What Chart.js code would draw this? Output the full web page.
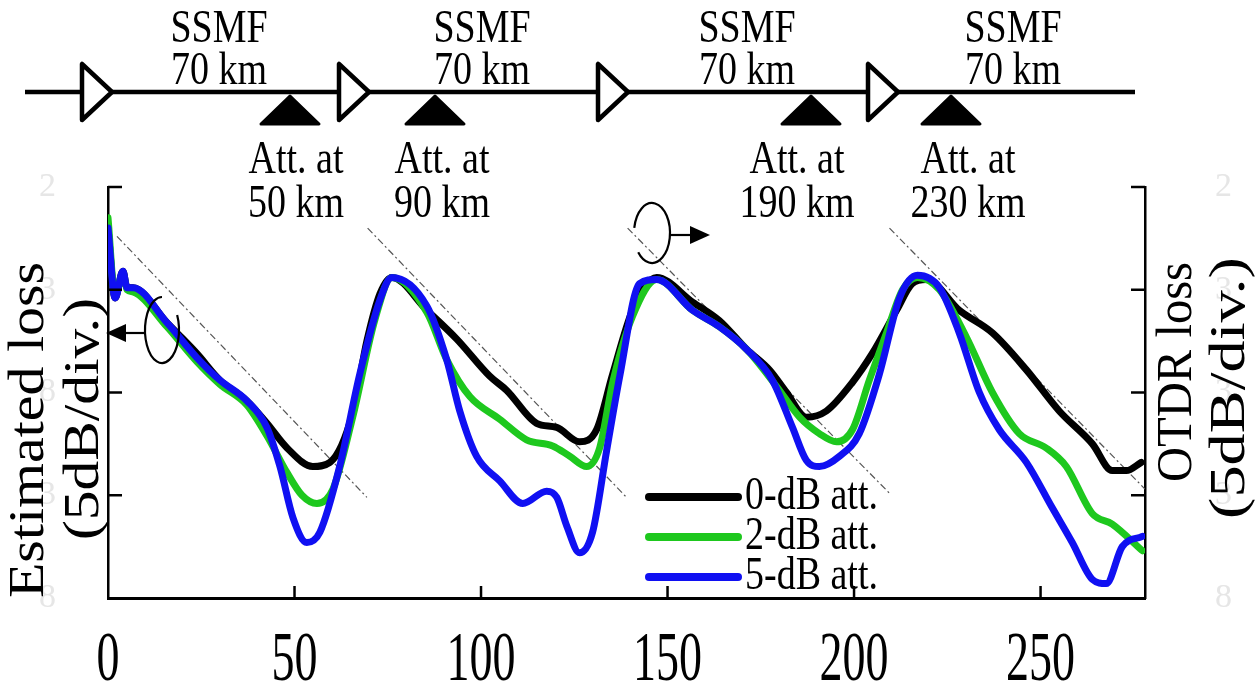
<!DOCTYPE html>
<html><head><meta charset="utf-8">
<script src="https://cdn.jsdelivr.net/npm/chart.js@4.4.0/dist/chart.umd.min.js"></script>
<style>html,body{margin:0;padding:0;background:#fff;}#wrap{width:1255px;height:695px;position:relative;}</style>
</head><body><div id="wrap"><canvas id="c" width="1255" height="695"></canvas></div>
<script>
// ---------------- data (km, dB) ----------------
const blackKm = [0,1.9,4.0,5.1,6.7,15.8,18.5,23.8,30.0,37.2,42.6,48.0,54.9,59.5,65.6,69.4,72.9,76.1,85.5,93.5,102.3,106.9,114.9,120.3,126.4,131.0,135.3,140.6,147.1,156.7,163.9,171.2,177.3,181.9,187.2,192.6,199.6,204.9,211.4,215.6,219.4,228.2,237.1,246.2,255.0,263.9,269.2,273.0,277.0];
const blackDb = [18.0,14.6,15.9,15.1,15.1,13.4,12.9,11.9,10.6,9.6,8.5,7.3,6.4,6.6,9.0,12.5,14.8,15.6,14.0,12.6,10.8,10.1,8.5,8.3,7.6,8.2,10.9,14.0,15.6,14.4,13.5,12.1,11.1,10.0,8.8,9.1,10.5,11.9,14.0,15.3,15.5,14.0,12.9,11.1,9.1,7.5,6.2,6.2,6.6];
const greenKm = [0,1.9,4.0,5.1,6.7,15.8,23.8,30.0,37.2,42.6,48.0,52.0,56.0,60.3,65.6,71.5,76.1,85.5,90.8,97.0,105.0,112.2,119.2,123.8,128.3,131.8,135.3,140.6,147.1,156.7,163.9,171.2,179.2,185.4,190.7,195.3,199.6,204.1,208.7,213.0,217.0,222.9,230.1,237.1,244.3,251.5,256.9,263.9,269.2,277.3];
const greenDb = [18.5,14.7,15.8,15.0,14.9,13.2,11.5,10.4,9.4,7.9,6.1,5.0,4.6,5.3,8.8,13.5,15.6,13.9,11.6,9.8,8.7,7.7,7.4,6.9,6.4,7.3,10.5,13.7,15.5,14.0,13.2,12.1,10.3,8.8,8.0,7.6,8.2,10.6,12.9,15.0,15.6,15.0,12.7,10.0,8.0,7.3,6.4,4.1,3.6,2.3];
const blueKm = [0,1.9,4.0,5.1,6.7,15.8,23.8,30.0,37.2,42.6,46.1,49.6,53.3,56.8,62.1,67.5,72.9,76.1,85.5,90.8,94.3,98.8,105.0,111.2,117.6,120.3,123.0,126.4,129.9,133.7,137.2,142.5,147.1,156.7,163.9,171.2,178.1,183.5,187.2,190.7,196.1,201.4,206.8,212.2,217.0,222.9,228.2,233.6,238.9,246.2,253.1,258.5,263.9,267.6,271.9,277.3];
const blueDb = [18.0,14.6,15.9,15.1,15.1,13.4,11.7,10.6,9.6,8.3,6.4,3.9,2.7,3.2,6.4,10.9,14.5,15.6,14.2,11.6,9.1,6.9,5.7,4.6,5.2,4.9,3.5,2.2,3.2,7.2,10.8,15.3,15.5,14.0,13.2,12.1,10.6,8.3,6.7,6.4,6.9,8.0,10.9,14.6,15.7,15.1,12.9,10.0,8.2,6.6,4.4,2.7,0.9,0.7,2.5,3.0];
// dash-dot reference slopes (one per span)
const refStartKm = [2.4, 69.6, 139.3, 209.5];
const refStartDb = [17.6, 18.0, 18.0, 18.0];
const refEndKm   = [69.4, 139.0, 209.5, 278.0];
const refEndDb   = [4.9, 4.9, 5.1, 5.3];
const seriesLabels = ['0-dB att.', '2-dB att.', '5-dB att.'];
const xTickValues = [0, 50, 100, 150, 200, 250];
const leftGhostLabels  = ['8','3','8','3','2'];   // faint remnants at 0,5,10,15,20
const rightGhostLabels = ['8','3','3','3','2'];
const spanLabels = ['SSMF', 'SSMF', 'SSMF', 'SSMF'];
const spanLengths = ['70 km', '70 km', '70 km', '70 km'];
const attLabels = ['50 km', '90 km', '190 km', '230 km'];

// ---------------- styling ----------------
const SERIF = "'Liberation Serif','Times New Roman',serif";
const COLORS = ['#000000', '#1ec81e', '#1010f2'];
const zip = (xs, ys) => xs.map((x, i) => ({x: x, y: ys[i]}));

const datasets = [
  {label: seriesLabels[2], data: zip(blueKm, blueDb),  borderColor: COLORS[2], order: 1},
  {label: seriesLabels[1], data: zip(greenKm, greenDb), borderColor: COLORS[1], order: 2},
  {label: seriesLabels[0], data: zip(blackKm, blackDb), borderColor: COLORS[0], order: 3}
].map(d => Object.assign(d, {borderWidth: 7, pointRadius: 0, fill: false,
  cubicInterpolationMode: 'monotone', borderCapStyle: 'round', borderJoinStyle: 'round'}));
refStartKm.forEach((k, i) => datasets.push({
  label: 'ref' + i, data: [{x: k, y: refStartDb[i]}, {x: refEndKm[i], y: refEndDb[i]}],
  borderColor: '#555', borderWidth: 1.2, borderDash: [7, 3, 2, 3], pointRadius: 0, order: 10, fill: false
}));

function txt(ctx, s, cx, cy, size, sy) {
  ctx.save(); ctx.translate(cx, cy); ctx.scale(1, sy);
  ctx.font = size + 'px ' + SERIF; ctx.textAlign = 'center'; ctx.textBaseline = 'middle';
  ctx.fillStyle = '#000'; ctx.fillText(s, 0, 0); ctx.restore();
}
function rotTxt(ctx, s, cx, cy, size, len) {
  ctx.save(); ctx.translate(cx, cy); ctx.rotate(-Math.PI / 2);
  ctx.font = size + 'px ' + SERIF; ctx.textAlign = 'center'; ctx.textBaseline = 'middle';
  const w = ctx.measureText(s).width; ctx.scale(len / w, 1);
  ctx.fillStyle = '#000'; ctx.fillText(s, 0, 0); ctx.restore();
}
function arrowHead(ctx, tipX, y, dir) {
  ctx.beginPath(); ctx.moveTo(tipX, y); ctx.lineTo(tipX - dir * 20, y - 9); ctx.lineTo(tipX - dir * 20, y + 9);
  ctx.closePath(); ctx.fill();
}

const decor = {
  id: 'decor',
  afterLayout(chart) {
    const xs = chart.scales.x;
    if (!xs._stretchPatched) {
      const orig = Object.getPrototypeOf(xs).drawLabels;
      xs.drawLabels = function (area) {
        const c = this.ctx, y0 = this.top;
        c.save(); c.translate(0, y0); c.scale(1, 1.5); c.translate(0, -y0);
        orig.call(this, area); c.restore();
      };
      xs._stretchPatched = true;
    }
  },
  afterDraw(chart) {
    const ctx = chart.ctx, a = chart.chartArea;
    const xs = chart.scales.x, ys = chart.scales.y;
    ctx.save();
    ctx.strokeStyle = '#000'; ctx.fillStyle = '#000'; ctx.lineCap = 'butt';
    // inward ticks
    ctx.lineWidth = 2.5;
    xTickValues.slice(1).forEach(v => {
      const px = xs.getPixelForValue(v);
      ctx.beginPath(); ctx.moveTo(px, a.bottom); ctx.lineTo(px, a.bottom - 12); ctx.stroke();
    });
    [5, 10, 15, 20].forEach(v => {
      const py = ys.getPixelForValue(v);
      ctx.beginPath(); ctx.moveTo(a.left, py); ctx.lineTo(a.left + 14, py); ctx.stroke();
      ctx.beginPath(); ctx.moveTo(a.right, py); ctx.lineTo(a.right - 14, py); ctx.stroke();
    });
    // ---- schematic ----
    ctx.lineWidth = 4.5; ctx.lineJoin = 'round';
    ctx.beginPath(); ctx.moveTo(25, 92); ctx.lineTo(1135, 92); ctx.stroke();
    [82, 339, 598, 868].forEach(L => {
      ctx.beginPath(); ctx.moveTo(L, 64); ctx.lineTo(L, 120); ctx.lineTo(L + 30, 92); ctx.closePath();
      ctx.fillStyle = '#fff'; ctx.fill(); ctx.stroke();
    });
    ctx.fillStyle = '#000'; ctx.lineWidth = 3;
    [290, 435, 811, 951].forEach(c => {
      ctx.beginPath(); ctx.moveTo(c, 96); ctx.lineTo(c + 29, 124); ctx.lineTo(c - 29, 124); ctx.closePath();
      ctx.fill(); ctx.stroke();
    });
    [219, 482, 747, 1013].forEach((c, i) => {
      txt(ctx, spanLabels[i], c, 30, 38, 1.2);
      txt(ctx, spanLengths[i], c, 72, 38, 1.2);
    });
    [296, 442, 797, 968].forEach((c, i) => {
      txt(ctx, 'Att. at', c, 161, 38, 1.2);
      txt(ctx, attLabels[i], c, 205, 38, 1.2);
    });
    // ---- axis titles ----
    rotTxt(ctx, 'Estimated loss', 30, 430, 50, 336);
    rotTxt(ctx, '(5dB/div.)', 85, 419, 50, 242);
    rotTxt(ctx, 'OTDR loss', 1178, 372, 50, 220);
    rotTxt(ctx, '(5dB/div.)', 1231, 388, 50, 262);
    // ---- circle/arrow annotations ----
    ctx.lineWidth = 2.2;
    ctx.beginPath(); ctx.ellipse(162, 330, 17, 33, 0, -27 * Math.PI / 180, 270 * Math.PI / 180, false); ctx.stroke();
    ctx.beginPath(); ctx.moveTo(145, 333); ctx.lineTo(120, 333); ctx.stroke();
    arrowHead(ctx, 106, 333, -1);
    ctx.beginPath(); ctx.ellipse(652, 233, 18, 30, 0, 190 * Math.PI / 180, 500 * Math.PI / 180, false); ctx.stroke();
    ctx.beginPath(); ctx.moveTo(670, 235); ctx.lineTo(694, 235); ctx.stroke();
    arrowHead(ctx, 710, 235, 1);
    // ---- legend ----
    const legendOrder = [2, 1, 0]; // black, green, blue datasets
    [497, 537, 577].forEach((ly, i) => {
      const ds = chart.data.datasets[legendOrder[i]];
      ctx.strokeStyle = ds.borderColor; ctx.lineWidth = 8; ctx.lineCap = 'round';
      ctx.beginPath(); ctx.moveTo(649, ly); ctx.lineTo(738, ly); ctx.stroke();
      ctx.save(); ctx.translate(745, ly); ctx.scale(1, 1.2);
      ctx.font = '38px ' + SERIF; ctx.textAlign = 'left'; ctx.textBaseline = 'middle'; ctx.fillStyle = '#000';
      ctx.fillText(ds.label, 0, 0); ctx.restore();
    });
    ctx.restore();
  }
};

new Chart(document.getElementById('c'), {
  type: 'line',
  data: {datasets: datasets},
  options: {
    responsive: false, animation: false,
    layout: {padding: {top: 187, left: 0, right: 0, bottom: 0}},
    plugins: {legend: {display: false}, tooltip: {enabled: false}},
    scales: {
      x: {type: 'linear', min: 0, max: 278, position: 'bottom',
        grid: {display: false, drawTicks: false},
        border: {display: true, color: '#000', width: 3},
        ticks: {stepSize: 50, includeBounds: false, color: '#000', maxRotation: 0,
          font: {family: SERIF, size: 46}, padding: 15},
        afterFit: s => { s.height = 97; }},
      y: {min: 0, max: 20, position: 'left',
        grid: {display: false, drawTicks: false},
        border: {display: true, color: '#000', width: 2.5},
        ticks: {stepSize: 5, color: '#e6e6e6', font: {family: SERIF, size: 34}, padding: 52,
          callback: (v) => leftGhostLabels[Math.round(v / 5)]},
        afterFit: s => { s.width = 108; }},
      y2: {min: 0, max: 20, position: 'right',
        grid: {display: false, drawTicks: false},
        border: {display: true, color: '#000', width: 2.5},
        ticks: {stepSize: 5, color: '#e6e6e6', font: {family: SERIF, size: 34}, padding: 70,
          callback: (v) => rightGhostLabels[Math.round(v / 5)]},
        afterFit: s => { s.width = 110; }}
    }
  },
  plugins: [decor]
});
</script></body></html>
